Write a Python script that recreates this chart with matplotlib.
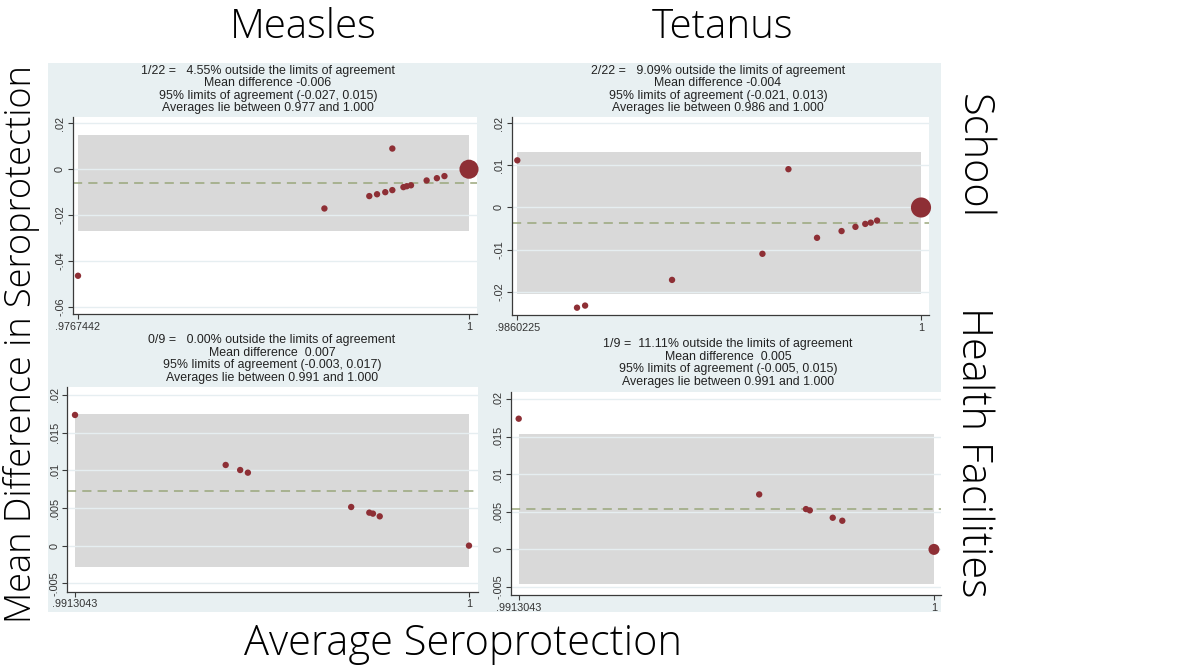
import matplotlib
matplotlib.use("Agg")
import matplotlib.pyplot as plt
from matplotlib.patches import Rectangle
from matplotlib.ticker import FuncFormatter

# ---------------- data ----------------
measles_school_avg = [0.9767442, 0.99140, 0.99407, 0.99453, 0.99502, 0.99544, 0.99544,
                      0.99610, 0.99630, 0.99655, 0.99748, 0.99809, 0.99854, 1.0]
measles_school_diff = [-0.0464, -0.0171, -0.0117, -0.0109, -0.0100, 0.0090, -0.0091,
                       -0.0078, -0.0074, -0.0070, -0.0049, -0.0039, -0.0030, 0.0]
measles_school_n = [1, 1, 1, 1, 1, 1, 1, 1, 1, 1, 1, 1, 1, 9]
measles_school_stats = [-0.0059, -0.0268, 0.0151]   # mean, lower, upper

tetanus_school_avg = [0.9860225, 0.98809, 0.98837, 0.99138, 0.99451, 0.99541, 0.99640,
                      0.99725, 0.99773, 0.99807, 0.99826, 0.99848, 1.0]
tetanus_school_diff = [0.0112, -0.0238, -0.0233, -0.0172, -0.0110, 0.0091, -0.0072,
                       -0.0056, -0.0046, -0.0039, -0.0036, -0.0031, 0.0]
tetanus_school_n = [1, 1, 1, 1, 1, 1, 1, 1, 1, 1, 1, 1, 10]
tetanus_school_stats = [-0.0038, -0.0206, 0.0132]

measles_hf_avg = [0.9913043, 0.99463, 0.99495, 0.99512, 0.99740, 0.99780, 0.99788, 0.99803, 1.0]
measles_hf_diff = [0.01735, 0.01071, 0.01004, 0.00969, 0.00513, 0.00438, 0.00425, 0.00389, 0.0]
measles_hf_n = [1, 1, 1, 1, 1, 1, 1, 1, 1]
measles_hf_stats = [0.00726, -0.00288, 0.01743]

tetanus_hf_avg = [0.9913043, 0.99634, 0.99732, 0.99740, 0.99788, 0.99808, 1.0]
tetanus_hf_diff = [0.01738, 0.00731, 0.00536, 0.00519, 0.00421, 0.00381, 0.0]
tetanus_hf_n = [1, 1, 1, 1, 1, 1, 3]
tetanus_hf_stats = [0.0054, -0.0046, 0.0154]

headers = {
    "ms": ["1/22 =   4.55% outside the limits of agreement", "Mean difference -0.006",
           "95% limits of agreement (-0.027, 0.015)", "Averages lie between 0.977 and 1.000"],
    "ts": ["2/22 =   9.09% outside the limits of agreement", "Mean difference -0.004",
           "95% limits of agreement (-0.021, 0.013)", "Averages lie between 0.986 and 1.000"],
    "mh": ["0/9 =   0.00% outside the limits of agreement", "Mean difference  0.007",
           "95% limits of agreement (-0.003, 0.017)", "Averages lie between 0.991 and 1.000"],
    "th": ["1/9 =  11.11% outside the limits of agreement", "Mean difference  0.005",
           "95% limits of agreement (-0.005, 0.015)", "Averages lie between 0.991 and 1.000"],
}

ms_yticks = [0.02, 0.0, -0.02, -0.04, -0.06]
ts_yticks = [0.02, 0.01, 0.0, -0.01, -0.02]
hf_yticks = [0.02, 0.015, 0.01, 0.005, 0.0, -0.005]
ms_xticks = [0.9767442, 1.0]
ts_xticks = [0.9860225, 1.0]
hf_xticks = [0.9913043, 1.0]
ms_xlabels = [".9767442", "1"]
ts_xlabels = [".9860225", "1"]
hf_xlabels = [".9913043", "1"]

col_titles = ["Measles", "Tetanus"]
row_titles = ["School", "Health Facilities"]
ylabel = "Mean Difference in Seroprotection"
xlabel = "Average Seroprotection"

# ---------------- style ----------------
W, H = 1188, 666
BG = "#E8F0F2"
BAND = "#D9D9D9"
MARK = "#8E2F35"
MEANC = "#9AA77C"
GRID = "#E6EEF1"
AXC = "#3A3A3A"
small_font = ["Liberation Sans", "DejaVu Sans"]
big_font = ["Open Sans", "DejaVu Sans"]
unit_area = 21.0

fig = plt.figure(figsize=(W / 100, H / 100), dpi=100)
fig.patch.set_facecolor("white")


def fx(x):
    return x / W


def fy(y):
    return 1 - y / H


# panel backgrounds (behind the axes)
bg = Rectangle((fx(48), fy(612)), fx(941 - 48), (612 - 63) / H,
               transform=fig.transFigure, facecolor=BG, edgecolor="none", zorder=-5)
fig.patches.append(bg)


def yfmt(v, pos):
    if abs(v) < 1e-12:
        return "0"
    s = ("%g" % v)
    s = s.replace("0.", ".")
    return s


def panel(box, xlim, ylim, avg, diff, n, stats, yticks, xticks, xlabels, header, hx, hy):
    left, top, right, bottom = box
    ax = fig.add_axes([fx(left), fy(bottom), fx(right - left), (bottom - top) / H])
    ax.set_facecolor("white")
    ax.set_xlim(*xlim)
    ax.set_ylim(*ylim)
    mean, lo, hi = stats
    ax.add_patch(Rectangle((min(avg), lo), max(avg) - min(avg), hi - lo,
                           facecolor=BAND, edgecolor="none", zorder=1))
    for t in yticks:
        ax.axhline(t, color=GRID, lw=1.0, zorder=1.5)
    ax.axhline(mean, color=MEANC, lw=1.1, ls=(0, (6, 4)), zorder=2)
    ax.scatter(avg, diff, s=[unit_area * k for k in n], color=MARK, edgecolor="none",
               zorder=3, clip_on=False)
    for sp in ["top", "right"]:
        ax.spines[sp].set_visible(False)
    for sp in ["left", "bottom"]:
        ax.spines[sp].set_color(AXC)
        ax.spines[sp].set_linewidth(0.9)
    ax.set_yticks(yticks)
    ax.yaxis.set_major_formatter(FuncFormatter(yfmt))
    ax.set_xticks(xticks)
    ax.set_xticklabels(xlabels)
    ax.tick_params(axis="both", direction="out", length=3.5, width=0.8, color=AXC,
                   labelsize=7.8, labelcolor="#333333", pad=2)
    for lab in ax.get_yticklabels():
        lab.set_rotation(90)
        lab.set_va("center")
        lab.set_fontfamily(small_font)
    for lab in ax.get_xticklabels():
        lab.set_fontfamily(small_font)
    for i, line in enumerate(header):
        fig.text(fx(hx), fy(hy + i * 12.6), line, ha="center", va="center",
                 fontsize=8.9, family=small_font, color="#222222")
    return ax


panel((72.7, 117, 477, 314), (0.976429, 1.000476), (-0.06305, 0.02274),
      measles_school_avg, measles_school_diff, measles_school_n, measles_school_stats,
      ms_yticks, ms_xticks, ms_xlabels, headers["ms"], 268, 70.7)
panel((511.7, 117.3, 929, 315), (0.9858286, 1.000277), (-0.025537, 0.021426),
      tetanus_school_avg, tetanus_school_diff, tetanus_school_n, tetanus_school_stats,
      ts_yticks, ts_xticks, ts_xlabels, headers["ts"], 718, 70.7)
panel((67.3, 387.3, 478, 591.7), (0.9911344, 1.000199), (-0.006115, 0.021022),
      measles_hf_avg, measles_hf_diff, measles_hf_n, measles_hf_stats,
      hf_yticks, hf_xticks, hf_xlabels, headers["mh"], 272, 340)
panel((511, 391.7, 941, 595), (0.9911431, 1.000147), (-0.006064, 0.02097),
      tetanus_hf_avg, tetanus_hf_diff, tetanus_hf_n, tetanus_hf_stats,
      hf_yticks, hf_xticks, hf_xlabels, headers["th"], 728, 344)

# big labels
fig.text(fx(303), fy(28), col_titles[0], ha="center", va="center", fontsize=29,
         family=big_font, fontweight="light")
fig.text(fx(722), fy(28), col_titles[1], ha="center", va="center", fontsize=29,
         family=big_font, fontweight="light")
fig.text(fx(973), fy(157), row_titles[0], ha="center", va="center", fontsize=30,
         family=big_font, rotation=-90, fontweight="light")
fig.text(fx(973), fy(452), row_titles[1], ha="center", va="center", fontsize=30,
         family=big_font, rotation=-90, fontweight="light")
fig.text(fx(22), fy(344), ylabel, ha="center", va="center", fontsize=26,
         family=big_font, rotation=90, fontweight="light")
fig.text(fx(463), fy(644), xlabel, ha="center", va="center", fontsize=30,
         family=big_font, fontweight="light")

fig.savefig("out.png", dpi=100, facecolor="white")
